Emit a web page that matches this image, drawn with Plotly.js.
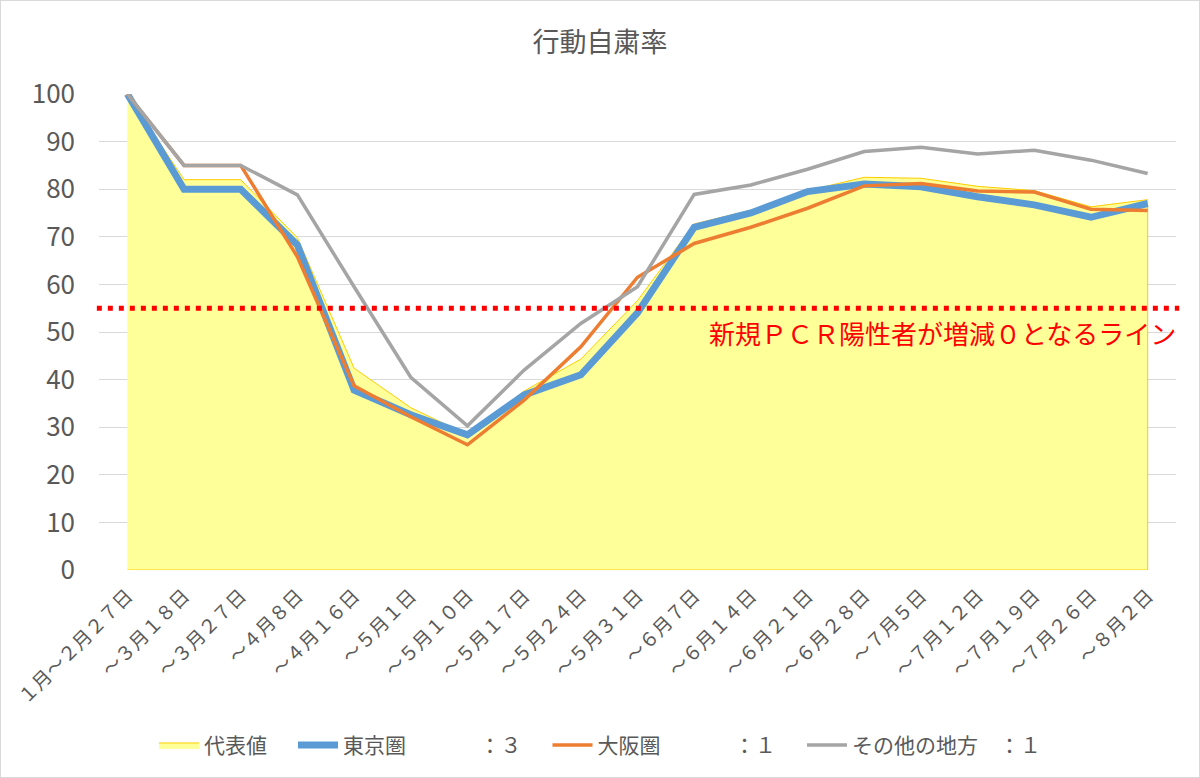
<!DOCTYPE html>
<html>
<head>
<meta charset="utf-8">
<script src="https://cdn.plot.ly/plotly-3.0.1.min.js"></script>
<style>
html, body { margin: 0; padding: 0; background: #fff; }
#wrap { position: relative; width: 1200px; height: 778px; }
#chart { width: 1200px; height: 778px; }
#frame { position: absolute; left: 0; top: 0; width: 1200px; height: 778px; box-sizing: border-box; border: 1px solid #d9d9d9; pointer-events: none; }
</style>
</head>
<body>
<div id="wrap"><div id="chart"></div><div id="frame"></div></div>
<script>
// ---- data ----
const categories = ["１月～２月２７日","～３月１８日","～３月２７日","～４月８日","～４月１６日","～５月１日","～５月１０日","～５月１７日","～５月２４日","～５月３１日","～６月７日","～６月１４日","～６月２１日","～６月２８日","～７月５日","～７月１２日","～７月１９日","～７月２６日","～８月２日"];
const representative = [100, 82, 82, 69.8, 42.4, 34.1, 28.4, 37.6, 44.3, 56.6, 72.7, 75.6, 79.7, 82.5, 82.3, 80.6, 79.7, 76.3, 77.8];
const tokyo = [100, 80, 80, 68.3, 37.8, 32.6, 28.4, 36.8, 41.0, 54.0, 72.0, 75.0, 79.5, 81.1, 80.5, 78.4, 76.7, 74.1, 77.0];
const osaka = [100, 85, 85, 65.8, 38.7, 32.2, 26.3, 35.7, 46.9, 61.5, 68.6, 72.0, 76.0, 80.7, 81.2, 79.6, 79.4, 75.8, 75.5];
const others = [100, 85, 85, 78.8, 59.5, 40.5, 30.3, 42.0, 51.8, 59.5, 78.9, 80.9, 84.2, 87.9, 88.8, 87.4, 88.2, 86.1, 83.3];
const seriesNames = ["代表値　", "東京圏　　　\u2002：３　", "大阪圏　　　\u2002：１　", "その他の地方　：１"];
const threshold = 55;
const thresholdLabel = "新規ＰＣＲ陽性者が増減０となるライン";
const chartTitle = "行動自粛率";
const yTicks = [0,10,20,30,40,50,60,70,80,90,100];

// closed polygon for the area (down to zero at both ends)
const areaX = categories.concat([categories[categories.length-1], categories[0]]);
const areaY = representative.concat([0, 0]);

const FONT = '"Noto Sans CJK JP", "Noto Sans", sans-serif';
const GREY = '#595959';

const traces = [
  { type: 'scatter', mode: 'lines', name: seriesNames[0], x: areaX, y: areaY,
    fill: 'toself', fillcolor: '#FFFF99', line: { color: '#FFCC00', width: 1 }, cliponaxis: false, hoverinfo: 'skip' },
  { type: 'scatter', mode: 'lines', name: seriesNames[1], x: categories, y: tokyo,
    line: { color: '#5B9BD5', width: 7 }, cliponaxis: false },
  { type: 'scatter', mode: 'lines', name: seriesNames[2], x: categories, y: osaka,
    line: { color: '#ED7D31', width: 3.5 }, cliponaxis: false },
  { type: 'scatter', mode: 'lines', name: seriesNames[3], x: categories, y: others,
    line: { color: '#A5A5A5', width: 3.5 }, cliponaxis: false }
];

const layout = {
  width: 1200, height: 778,
  paper_bgcolor: '#ffffff', plot_bgcolor: '#ffffff',
  margin: { l: 99, r: 24, t: 94, b: 208 },
  font: { family: FONT, color: GREY },
  title: { text: chartTitle, font: { family: FONT, size: 27, color: GREY },
           x: 0.5, xref: 'container', xanchor: 'center', y: 0.945, yref: 'container', yanchor: 'middle' },
  xaxis: { type: 'category', categoryorder: 'array', categoryarray: categories,
           range: [-0.5, categories.length - 0.5], tickangle: -45,
           tickfont: { family: FONT, size: 19, color: GREY },
           showgrid: false, zeroline: false, showline: false, ticks: '', ticklabelstandoff: 10, fixedrange: true },
  yaxis: { range: [0, 100], tickvals: yTicks, ticktext: yTicks.map(String),
           tickfont: { family: FONT, size: 26, color: GREY },
           showgrid: true, gridcolor: '#D9D9D9', gridwidth: 1, zeroline: false, showline: false, ticks: '',
           ticklabelstandoff: 23, fixedrange: true },
  showlegend: true,
  legend: { orientation: 'h', x: 0.5, xref: 'container', xanchor: 'center', y: 0.042, yref: 'container', yanchor: 'middle',
            font: { family: FONT, size: 21, color: GREY }, itemwidth: 40, traceorder: 'normal' },
  shapes: [
    { type: 'line', xref: 'paper', x0: -0.002, x1: 1.003, yref: 'y', y0: threshold, y1: threshold,
      line: { color: '#FF0000', width: 5, dash: '5px,6px' }, layer: 'above' }
  ],
  annotations: [
    { text: thresholdLabel, xref: 'paper', x: 1.002, xanchor: 'right', yref: 'y', y: threshold - 5, yanchor: 'middle',
      showarrow: false, font: { family: FONT, size: 26, color: '#FF0000' } }
  ]
};

Plotly.newPlot('chart', traces, layout, { displayModeBar: false, staticPlot: true });
</script>
</body>
</html>
